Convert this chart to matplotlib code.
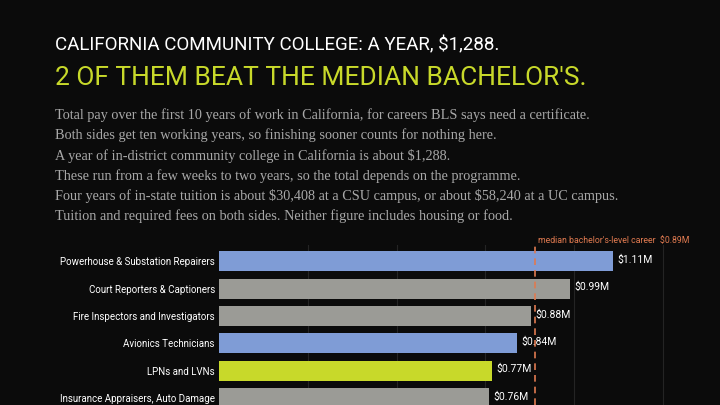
import matplotlib.pyplot as plt

plt.rcParams["text.parse_math"] = False

jobs = ["Powerhouse & Substation Repairers", "Court Reporters & Captioners",
        "Fire Inspectors and Investigators", "Avionics Technicians",
        "LPNs and LVNs", "Insurance Appraisers, Auto Damage"]
pay = [1.11, 0.99, 0.88, 0.84, 0.77, 0.76]
colors = ["#7f9cd6", "#9b9b96", "#9b9b96", "#7f9cd6", "#c8d92a", "#9b9b96"]
median = 0.89

sans = ["Roboto", "DejaVu Sans"]
W, H = 720, 405
fig = plt.figure(figsize=(7.2, 4.05), dpi=100, facecolor="#0b0b0b")

fig.text(55/W, 1-45/H, "CALIFORNIA COMMUNITY COLLEGE: A YEAR, $1,288.", color="white",
         fontsize=13.5, family=sans, va="center")
fig.text(55/W, 1-78/H, "2 OF THEM BEAT THE MEDIAN BACHELOR'S.", color="#c8d92a",
         fontsize=19, family=sans, va="center")
sub = ["Total pay over the first 10 years of work in California, for careers BLS says need a certificate.",
       "Both sides get ten working years, so finishing sooner counts for nothing here.",
       "A year of in-district community college in California is about $1,288.",
       "These run from a few weeks to two years, so the total depends on the programme.",
       "Four years of in-state tuition is about $30,408 at a CSU campus, or about $58,240 at a UC campus.",
       "Tuition and required fees on both sides. Neither figure includes housing or food."]
for i, s in enumerate(sub):
    fig.text(55/W, 1-(115+20.3*i)/H, s, color="#a8a8a8", fontsize=10.3,
             family=["Liberation Serif", "DejaVu Serif"], va="center")

ax = fig.add_axes([219/W, 0, 497/W, 160/H])
ax.set_facecolor("#0b0b0b")
ax.barh(range(len(jobs)), pay, height=0.73, color=colors)
ax.set_xlim(0, 1.4)
ax.set_ylim(5.26, -0.6)
ax.set_xticks([0.25, 0.5, 0.75, 1.0, 1.25])
ax.grid(axis="x", color="#242424", lw=0.8)
ax.set_axisbelow(True)
ax.tick_params(axis="x", length=0, labelbottom=False)
ax.tick_params(axis="y", length=0, pad=3)
ax.set_yticks(range(len(jobs)))
ax.set_yticklabels(jobs, color="white", fontsize=7, family=sans)
for s in ax.spines.values():
    s.set_visible(False)
for i, v in enumerate(pay):
    ax.text(v + 0.012, i - 0.05, f"${v:.2f}M", color="white", fontsize=7.5,
            family=sans, va="center")
ax.axvline(median, color="#e07a50", ls=(0, (4, 3)), lw=1.2)
ax.text(median + 0.01, -0.75, f"median bachelor's-level career  ${median:.2f}M",
        color="#e07a50", fontsize=6.3, family=sans, va="center", clip_on=False)

fig.savefig("out.png", dpi=100, facecolor=fig.get_facecolor())
